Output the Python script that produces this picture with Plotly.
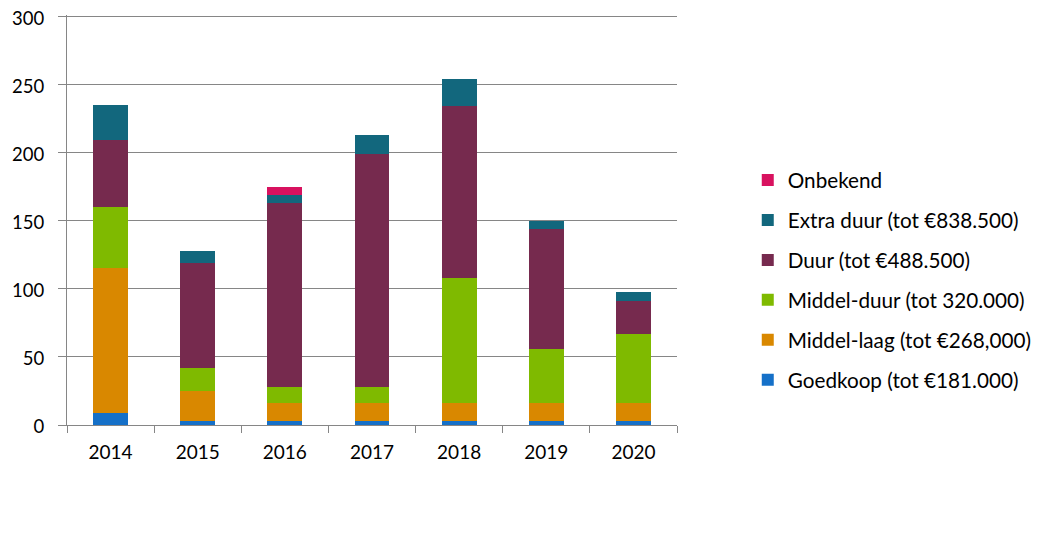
import plotly.graph_objects as go

years = ["2014", "2015", "2016", "2017", "2018", "2019", "2020"]

goedkoop = [9, 3, 3, 3, 3, 3, 3]
middel_laag = [106, 22, 13, 13, 13, 13, 13]
middel_duur = [45, 17, 12, 12, 92, 40, 51]
duur = [49, 77, 135, 171, 126, 88, 24]
extra_duur = [26, 9, 6, 14, 20, 6, 7]
onbekend = [0, 0, 6, 0, 0, 0, 0]

series = [
    ("Goedkoop (tot €181.000)", goedkoop, "#1570C8"),
    ("Middel-laag (tot €268,000)", middel_laag, "#D98800"),
    ("Middel-duur (tot 320.000)", middel_duur, "#7FBA00"),
    ("Duur (tot €488.500)", duur, "#762A4E"),
    ("Extra duur (tot €838.500)", extra_duur, "#12677D"),
    ("Onbekend", onbekend, "#D8125F"),
]

fig = go.Figure()
n = len(series)
for i, (name, vals, color) in enumerate(series):
    fig.add_trace(go.Bar(
        x=years, y=vals, name=name, marker_color=color,
        marker_line_width=0, legendgroup=f"g{i}", legendrank=n - i, width=0.4,
    ))

font_family = "Lato, 'Open Sans', sans-serif"
fig.update_layout(
    width=1040, height=543,
    margin=dict(l=59, r=371, t=7, b=126, autoexpand=False),
    barmode="stack",
    plot_bgcolor="white", paper_bgcolor="white",
    font=dict(family=font_family, size=19, color="black"),
    legend=dict(
        traceorder="grouped", tracegroupgap=10,
        x=1.116, xanchor="left", y=0.646, yanchor="top",
        font=dict(size=20.7), bgcolor="rgba(0,0,0,0)",
    ),
    xaxis=dict(
        showline=True, linecolor="#868686", linewidth=1,
        ticks="outside", tickson="boundaries", ticklen=7, tickcolor="#868686",
        showgrid=False, tickfont=dict(size=19), ticklabelstandoff=10,
        automargin=False,
    ),
    yaxis=dict(
        range=[0, 301], tick0=0, dtick=50, showline=True, linecolor="#868686", linewidth=1,
        ticks="outside", ticklen=8, tickcolor="#868686",
        showgrid=True, gridcolor="#868686", gridwidth=1,
        zeroline=False, tickfont=dict(size=18.5), ticklabelstandoff=10,
        ticklabelshift=2,
        ticklabeloverflow="allow", automargin=False,
    ),
)

fig.write_html("out.html")
